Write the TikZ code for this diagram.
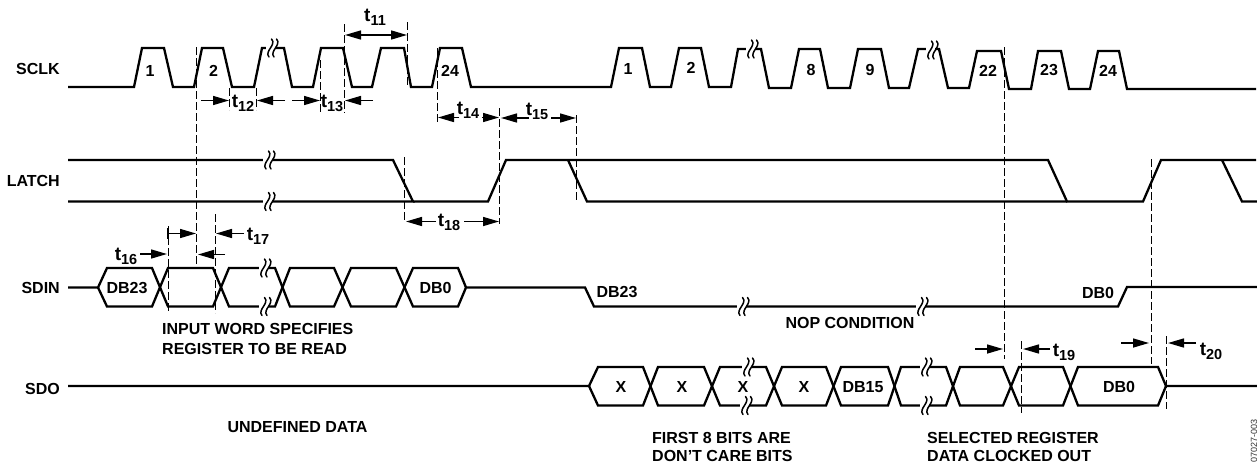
\documentclass[tikz,border=0pt]{standalone}
\usepackage{fontspec}
\setmainfont{Liberation Sans}
\usetikzlibrary{arrows.meta}
\newcommand{\tsub}[2]{{\fontsize{#1}{#1}\selectfont t}{\raisebox{-4pt}{\fontsize{14.5}{14.5}\selectfont #2}}}
\newcommand{\tlab}[1]{\tsub{19}{#1}}
\tikzset{
  x=1pt,y=-1pt,
  wave/.style={line width=2.3pt,black,line join=miter,miter limit=4},
  guide/.style={line width=1pt,black,dash pattern=on 8pt off 3pt},
  dim/.style={line width=1.5pt,black,-{Triangle[length=16pt,width=9pt]}},
  dimtwo/.style={line width=1.5pt,black,{Triangle[length=16pt,width=9pt]}-{Triangle[length=16pt,width=9pt]}},
  bar/.style={line width=1.2pt,black},
  txt/.style={inner sep=0pt,font=\bfseries\fontsize{16}{19}\selectfont,text=black},
  sig/.style={txt,anchor=east},
  lft/.style={txt,anchor=west},
  num/.style={txt},
  tl/.style={inner sep=0pt,font=\bfseries,text=black},
  brkline/.style={line width=1.5pt,black,line cap=round}
}
\newcommand{\brk}[2]{%
  \fill[white] (#1-4,#2-3) rectangle (#1+5,#2+3);
  \draw[brkline] (#1+1.5,#2-9) .. controls (#1+7,#2-3) and (#1-6,#2+3) .. (#1-1,#2+9);
  \draw[brkline] (#1+6.5,#2-9) .. controls (#1+12,#2-3) and (#1-1,#2+3) .. (#1+4,#2+9);
}
\begin{document}
\begin{tikzpicture}
\useasboundingbox (0,0) rectangle (1257,466);

% SCLK
\draw[wave] (68,87) -- (134,87) -- (142,48) -- (164,48) -- (173,87) -- (194,87) -- (202,48) -- (223,48) -- (232,87)
 -- (254,87) -- (262,48) -- (284,48) -- (292,87) -- (313,87) -- (321,48) -- (343,48) -- (352,87) -- (372,87) -- (381,48)
 -- (404,48) -- (411,87) -- (432,87) -- (440,48) -- (462,48) -- (471,87) -- (611,87) -- (619,48) -- (642,48) -- (650,87)
 -- (671,87) -- (679,48) -- (701,48) -- (709,87) -- (731,87) -- (738,49) -- (761,49) -- (769,88) -- (791,88) -- (799,49)
 -- (820,49) -- (828,88) -- (850,88) -- (858,49) -- (881,49) -- (889,88) -- (909,88) -- (918,49) -- (939,49) -- (948,88)
 -- (969,88) -- (977,51) -- (1001,51) -- (1009,89) -- (1031,89) -- (1038,51) -- (1061,51) -- (1069,89) -- (1090,89)
 -- (1098,51) -- (1119,51) -- (1127,89) -- (1256,89);

% LATCH
\draw[wave] (68,160) -- (393,160) -- (413,201.5) -- (68,201.5);
\draw[wave] (413,201.5) -- (488,201.5) -- (506,160) -- (1048,160) -- (1067,201.5) -- (1143,201.5) -- (1161,160) -- (1256,160);
\draw[wave] (568,160) -- (587,201.5) -- (1067,201.5);
\draw[wave] (1222,160) -- (1242,201.5) -- (1257,201.5);

% SDIN
\draw[wave] (68,287.5) -- (98,287.5) -- (107,268) -- (152,268) -- (168,306.5) -- (213,306.5) -- (229,268) -- (275,268)
 -- (290,306.5) -- (334,306.5) -- (351,268) -- (396,268) -- (413,306.5) -- (458,306.5) -- (466,287.5) -- (585,287.5)
 -- (594,306.5) -- (1118,306.5) -- (1127,287) -- (1257,287);
\draw[wave] (98,287.5) -- (107,306.5) -- (152,306.5) -- (168,268) -- (213,268) -- (229,306.5) -- (275,306.5)
 -- (290,268) -- (334,268) -- (351,306.5) -- (396,306.5) -- (413,268) -- (458,268) -- (466,287.5);

% SDO
\draw[wave] (68,386) -- (589,386) -- (598,367) -- (643,367) -- (658,405.5) -- (704,405.5) -- (720,367) -- (766,367)
 -- (782,405.5) -- (826,405.5) -- (841,367) -- (888,367) -- (901,405.5) -- (946,405.5) -- (960,367) -- (1003,367)
 -- (1019,405.5) -- (1063,405.5) -- (1078,367) -- (1158,367) -- (1166,386) -- (1257,386);
\draw[wave] (589,386) -- (598,405.5) -- (643,405.5) -- (658,367) -- (704,367) -- (720,405.5) -- (766,405.5)
 -- (782,367) -- (826,367) -- (841,405.5) -- (888,405.5) -- (901,367) -- (946,367) -- (960,405.5) -- (1003,405.5)
 -- (1019,367) -- (1063,367) -- (1078,405.5) -- (1158,405.5) -- (1166,386);

% break marks
\brk{270}{48}\brk{750}{49}\brk{930}{50}
\brk{267}{160}\brk{267}{201.5}
\brk{263}{268}\brk{263}{306.5}
\brk{741}{306.5}\brk{920}{306.5}
\brk{746}{367}\brk{744}{405.5}
\brk{924}{367}\brk{924}{405.5}

% timing guides
\coordinate (g1a) at (196.5,47);   \coordinate (g1b) at (196.5,268);
\coordinate (g2a) at (344.5,24);   \coordinate (g2b) at (344.5,113);
\coordinate (g3a) at (407,22);     \coordinate (g3b) at (407,86);
\coordinate (g4a) at (229.5,88);   \coordinate (g4b) at (229.5,110);
\coordinate (g5a) at (256.5,88);   \coordinate (g5b) at (256.5,110);
\coordinate (g6a) at (320.5,60);   \coordinate (g6b) at (320.5,113);
\coordinate (g7a) at (437,48);     \coordinate (g7b) at (437,123);
\coordinate (g8a) at (499.5,108);  \coordinate (g8b) at (499.5,224);
\coordinate (g9a) at (576.5,115);  \coordinate (g9b) at (576.5,200);
\coordinate (g10a) at (404,157);   \coordinate (g10b) at (404,221);
\coordinate (g11a) at (168,226);   \coordinate (g11b) at (168,313);
\coordinate (g12a) at (215,214);   \coordinate (g12b) at (215,313);
\coordinate (g13a) at (1004,47);   \coordinate (g13b) at (1004,359);
\coordinate (g14a) at (1021,341);  \coordinate (g14b) at (1021,413);
\coordinate (g15a) at (1151,159);  \coordinate (g15b) at (1151,364);
\coordinate (g16a) at (1166,336);  \coordinate (g16b) at (1166,409);
\foreach \g in {1,...,16} \draw[guide] (g\g a) -- (g\g b);

% dimension arrows
\draw[dimtwo] (345,35) -- (407,35);
\draw[dim] (201,100.5) -- (229,100.5);
\draw[dim] (285,100.5) -- (257,100.5);
\draw[dim] (292,100.5) -- (320,100.5);
\draw[dim] (373,100.5) -- (345,100.5);
\draw[dim] (459,117.5) -- (438,117.5);
\draw[dim] (482,117.5) -- (499,117.5);
\draw[dim] (529,118) -- (501,118);
\draw[dim] (551,118) -- (576,118);
\draw[dim] (436,221.5) -- (406,221.5);
\draw[dim] (464,221.5) -- (499,221.5);
\draw[dim] (140,254) -- (167,254);
\draw[dim] (168,233.5) -- (196,233.5);
\draw[bar] (168,228) -- (168,239);
\draw[dim] (225,254.5) -- (198,254.5);
\draw[dim] (244,233.5) -- (216,233.5);
\draw[dim] (975,349) -- (1003,349);
\draw[dim] (1050,349) -- (1023,349);
\draw[dim] (1121,343) -- (1149,343);
\draw[dim] (1196,343) -- (1168,343);

% signal names
\node[sig] (nsclk) at (60,69) {SCLK};
\node[sig] (nlatch) at (60,181) {LATCH};
\node[sig] (nsdin) at (60,288) {SDIN};
\node[sig] (nsdo) at (60,389) {SDO};

% clock numbers
\node[num] (c1) at (150,71) {1};
\node[num] (c2) at (213.5,71) {2};
\node[num] (c3) at (450,71) {24};
\node[num] (c4) at (628,69) {1};
\node[num] (c5) at (691,68) {2};
\node[num] (c6) at (811,70) {8};
\node[num] (c7) at (870,70) {9};
\node[num] (c8) at (988,71) {22};
\node[num] (c9) at (1049,70) {23};
\node[num] (c10) at (1108,71) {24};

% data labels
\node[num] (d1) at (127,288) {DB23};
\node[num] (d2) at (435.5,288) {DB0};
\node[num] (d3) at (617,292) {DB23};
\node[num] (d4) at (1098,293) {DB0};
\node[num] (x1) at (621,387) {X};
\node[num] (x2) at (682,387) {X};
\node[num] (x3) at (743,387) {X};
\node[num] (x4) at (804,387) {X};
\node[num] (d5) at (863,387) {DB15};
\node[num] (d6) at (1119,387) {DB0};

% notes
\node[txt] (n1) at (850,323) {NOP CONDITION};
\node[lft] (n2) at (162,329) {INPUT WORD SPECIFIES};
\node[lft] (n3) at (162,349) {REGISTER TO BE READ};
\node[txt] (n4) at (297.5,427) {UNDEFINED DATA};
\node[lft] (n5) at (652,438) {FIRST 8 BITS ARE};
\node[lft] (n6) at (652,456) {DON’T CARE BITS};
\node[lft] (n7) at (927,438) {SELECTED REGISTER};
\node[lft] (n8) at (927,456) {DATA CLOCKED OUT};

% timing labels
\node[tl] (t11) at (375,17) {\tlab{11}};
\node[tl] (t12) at (243,103) {\tlab{12}};
\node[tl] (t13) at (332,103) {\tlab{13}};
\node[tl] (t14) at (468,110) {\tlab{14}};
\node[tl] (t15) at (537,111) {\tlab{15}};
\node[tl] (t18) at (449,222) {\tlab{18}};
\node[tl] (t16) at (126,256) {\tlab{16}};
\node[tl] (t17) at (258,236) {\tlab{17}};
\node[tl] (t19) at (1064,352) {\tlab{19}};
\node[tl] (t20) at (1211,351) {\tlab{20}};

\node[inner sep=0pt,rotate=90,anchor=west,font=\fontsize{9}{9}\selectfont,text=black!80] (ref) at (1254,463) {07027-003};
\end{tikzpicture}
\end{document}
